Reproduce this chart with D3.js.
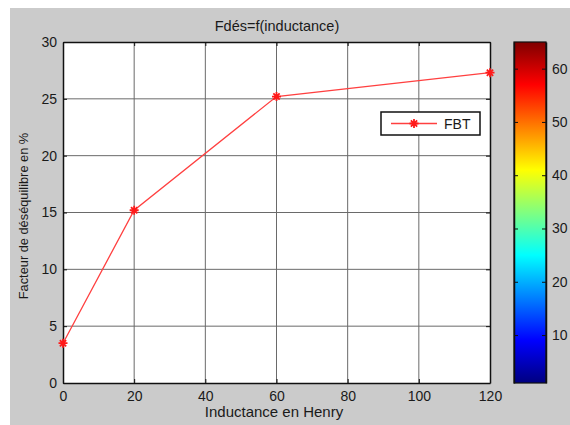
<!DOCTYPE html>
<html>
<head>
<meta charset="utf-8">
<script src="https://cdn.jsdelivr.net/npm/d3@7"></script>
<style>
  body { margin: 0; background: #fff; }
  text { font-family: "Liberation Sans", Arial, sans-serif; fill: #1a1a1a; }
</style>
</head>
<body>
<svg id="chart" width="570" height="425"></svg>
<script>
// data
var inductance = [0, 20, 60, 120];
var facteur = [3.5, 15.2, 25.2, 27.3];
var xTicks = [0, 20, 40, 60, 80, 100, 120];
var yTicks = [0, 5, 10, 15, 20, 25, 30];
var cbTicks = [10, 20, 30, 40, 50, 60];
var cbDomain = [1, 65];
var seriesName = "FBT";

var svg = d3.select("#chart");

// figure background
svg.append("rect")
    .attr("x", 10).attr("y", 8)
    .attr("width", 560).attr("height", 417)
    .attr("fill", "#cbcbcb");

// plot box (note: "top" is reserved on window, so use other names)
var pL = 63, pR = 490, pT = 42, pB = 383;

var x = d3.scaleLinear().domain([0, 120]).range([pL, pR]);
var y = d3.scaleLinear().domain([0, 30]).range([pB, pT]);

svg.append("rect")
    .attr("x", pL).attr("y", pT)
    .attr("width", pR - pL).attr("height", pB - pT)
    .attr("fill", "#fff");

// grid
svg.append("g").selectAll("line")
    .data(xTicks.slice(1, -1))
    .enter().append("line")
        .attr("x1", d => x(d)).attr("x2", d => x(d))
        .attr("y1", pT).attr("y2", pB)
        .attr("stroke", "#6a6a6a").attr("stroke-width", 1);
svg.append("g").selectAll("line")
    .data(yTicks.slice(1, -1))
    .enter().append("line")
        .attr("x1", pL).attr("x2", pR)
        .attr("y1", d => y(d)).attr("y2", d => y(d))
        .attr("stroke", "#6a6a6a").attr("stroke-width", 1);

// axes (ticks inward)
function styleAxis(g) {
  g.select(".domain").attr("stroke", "#111").attr("stroke-width", 1.5);
  g.selectAll(".tick line").attr("stroke", "#111");
  g.selectAll(".tick text").style("font-size", "14px").attr("fill", "#1a1a1a");
}
svg.append("g").attr("transform", "translate(0," + pB + ")")
    .call(d3.axisBottom(x).tickValues(xTicks).tickSize(-4).tickSizeOuter(0).tickPadding(8))
    .call(styleAxis);
svg.append("g").attr("transform", "translate(" + pL + ",0)")
    .call(d3.axisLeft(y).tickValues(yTicks).tickSize(-4).tickSizeOuter(0).tickPadding(6))
    .call(styleAxis);
svg.append("g").attr("transform", "translate(0," + pT + ")")
    .call(d3.axisTop(x).tickValues(xTicks).tickSize(-4).tickSizeOuter(0).tickFormat(""))
    .call(styleAxis);
svg.append("g").attr("transform", "translate(" + pR + ",0)")
    .call(d3.axisRight(y).tickValues(yTicks).tickSize(-4).tickSizeOuter(0).tickFormat(""))
    .call(styleAxis);

// series
var pts = inductance.map((d, i) => [d, facteur[i]]);
svg.append("path")
    .datum(pts)
    .attr("d", d3.line().x(d => x(d[0])).y(d => y(d[1])))
    .attr("fill", "none")
    .attr("stroke", "#ff4040")
    .attr("stroke-width", 1.3);

function star(g, cx, cy, r) {
  var s = r * 0.7;
  g.append("path")
      .attr("d", "M" + (cx - r) + "," + cy + "H" + (cx + r) +
                 "M" + cx + "," + (cy - r) + "V" + (cy + r) +
                 "M" + (cx - s) + "," + (cy - s) + "L" + (cx + s) + "," + (cy + s) +
                 "M" + (cx - s) + "," + (cy + s) + "L" + (cx + s) + "," + (cy - s))
      .attr("stroke", "#ff1a1a").attr("stroke-width", 1.8).attr("fill", "none");
}
var marks = svg.append("g");
pts.forEach(d => star(marks, x(d[0]), y(d[1]), 4.5));

// title and labels
svg.append("text")
    .attr("x", 277).attr("y", 31)
    .attr("text-anchor", "middle")
    .style("font-size", "14.5px")
    .text("Fdés=f(inductance)");
svg.append("text")
    .attr("x", 274).attr("y", 417)
    .attr("text-anchor", "middle")
    .style("font-size", "15px")
    .text("Inductance en Henry");
svg.append("text")
    .attr("transform", "translate(28,216) rotate(-90)")
    .attr("text-anchor", "middle")
    .style("font-size", "12.8px")
    .text("Facteur de déséquilibre en %");

// legend
var lg = svg.append("g");
lg.append("rect")
    .attr("x", 381).attr("y", 112)
    .attr("width", 99).attr("height", 23)
    .attr("fill", "#fff").attr("stroke", "#111").attr("stroke-width", 1.5);
lg.append("line")
    .attr("x1", 391).attr("x2", 437).attr("y1", 123.5).attr("y2", 123.5)
    .attr("stroke", "#ff4040").attr("stroke-width", 1.3);
star(lg, 414, 123.5, 4.5);
lg.append("text")
    .attr("x", 444).attr("y", 128.5)
    .style("font-size", "14px")
    .text(seriesName);

// colorbar (jet)
function jet(t) {
  var r = Math.min(Math.max(Math.min(4 * t - 1.5, -4 * t + 4.5), 0), 1);
  var g = Math.min(Math.max(Math.min(4 * t - 0.5, -4 * t + 3.5), 0), 1);
  var b = Math.min(Math.max(Math.min(4 * t + 0.5, -4 * t + 2.5), 0), 1);
  return d3.rgb(r * 255, g * 255, b * 255).toString();
}
var cbLeft = 514, cbRight = 546;
var cy = d3.scaleLinear().domain(cbDomain).range([pB, pT]);
var grad = svg.append("defs").append("linearGradient")
    .attr("id", "jet").attr("x1", 0).attr("y1", 1).attr("x2", 0).attr("y2", 0);
grad.selectAll("stop")
    .data(d3.range(0, 1.0001, 1 / 32))
    .enter().append("stop")
        .attr("offset", d => d)
        .attr("stop-color", d => jet(d));
svg.append("rect")
    .attr("x", cbLeft).attr("y", pT)
    .attr("width", cbRight - cbLeft).attr("height", pB - pT)
    .attr("fill", "url(#jet)");
svg.append("g").attr("transform", "translate(" + cbRight + ",0)")
    .call(d3.axisRight(cy).tickValues(cbTicks).tickSize(-4).tickSizeOuter(0).tickPadding(6))
    .call(styleAxis);
svg.append("g").attr("transform", "translate(" + cbLeft + ",0)")
    .call(d3.axisLeft(cy).tickValues(cbTicks).tickSize(-4).tickSizeOuter(0).tickFormat(""))
    .call(styleAxis);
svg.append("rect")
    .attr("x", cbLeft).attr("y", pT)
    .attr("width", cbRight - cbLeft).attr("height", pB - pT)
    .attr("fill", "none").attr("stroke", "#111").attr("stroke-width", 1.2);
</script>
</body>
</html>
